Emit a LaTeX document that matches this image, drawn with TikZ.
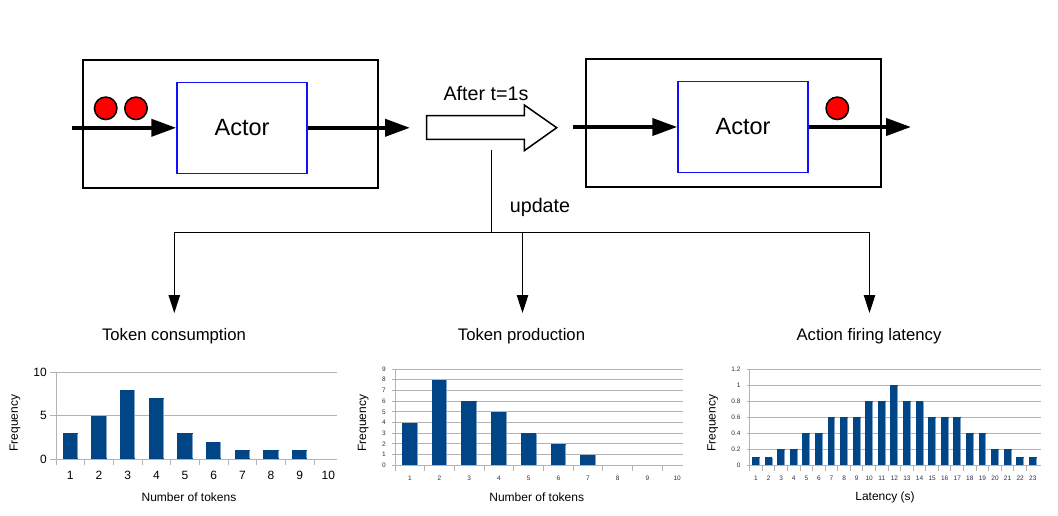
\documentclass[tikz,border=0pt]{standalone}
\usepackage{fontspec}
\setmainfont{Liberation Sans}
\usetikzlibrary{arrows.meta}
\definecolor{barblue}{HTML}{004586}
\definecolor{barhi}{HTML}{7FA2C8}
\definecolor{gridgray}{HTML}{B3B3B3}
\definecolor{axlab}{HTML}{2B2B45}
\definecolor{actorblue}{HTML}{1010FF}
\begin{document}
\begin{tikzpicture}[x=1pt,y=-1pt,
  outerbox/.style={draw=black, line width=1.5pt, minimum width=295pt, minimum height=128pt, inner sep=0},
  actorbox/.style={draw=actorblue, line width=1.5pt, minimum width=130pt, minimum height=91pt, inner sep=0, font=\fontsize{23.5}{28}\selectfont},
  flow/.style={line width=4pt, -{Triangle[length=25pt,width=17pt]}},
  token/.style={circle, draw=black, fill=red, line width=1.5pt, minimum size=22.5pt, inner sep=0},
  conn/.style={line width=1pt},
  connarr/.style={conn, -{Triangle[length=18pt,width=11.5pt]}},
  biglabel/.style={font=\fontsize{19.7}{24}\selectfont, inner sep=0},
  ctitle/.style={font=\fontsize{16.7}{20}\selectfont, inner sep=0},
  axtitle/.style={font=\fontsize{12}{14}\selectfont, inner sep=0},
  bigtick/.style={font=\fontsize{12}{14}\selectfont, inner sep=0},
  smalltick/.style={font=\fontsize{6.5}{8}\selectfont, text=axlab, inner sep=0},
  gridline/.style={draw=gridgray, line width=1pt},
  barhl/.style={draw=barhi, line width=0.8pt}
]
\useasboundingbox (0,0) rectangle (1058,516);

% ---------- top left: actor before ----------
\node[outerbox] (outerL) at (230.7,123.8) {};
\node[actorbox] (actorL) at (242,127.8) {Actor};
\coordinate (inL) at (72.3,127.8);
\coordinate (outL) at (410,127.8);
\draw[flow] (inL) -- (actorL.west);
\draw[flow] (actorL.east) -- (outL);
\node[token] (tok1) at (105.7,108.3) {};
\node[token] (tok2) at (136,108.3) {};

% ---------- block arrow ----------
\draw[line width=1.5pt, fill=white] (426.7,115.7) -- (524.3,115.7) -- (524.3,105) -- (556.7,127.7)
  -- (524.3,150.7) -- (524.3,139.3) -- (426.7,139.3) -- cycle;
\node[biglabel] (after) at (486,93) {After t=1s};

% ---------- top right: actor after ----------
\node[outerbox] (outerR) at (733.5,123) {};
\node[actorbox] (actorR) at (743,127) {Actor};
\coordinate (inR) at (572.7,127);
\coordinate (outR) at (911,127);
\draw[flow] (inR) -- (actorR.west);
\draw[flow] (actorR.east) -- (outR);
\node[token] (tok3) at (837.3,108.3) {};

% ---------- update connectors ----------
\node[biglabel] (upd) at (540,207) {update};
\coordinate (updTop) at (491,150);
\coordinate (jn) at (491,232.7);
\coordinate (aA) at (174.3,313);
\coordinate (aB) at (522.5,313);
\coordinate (aC) at (869.5,313);
\draw[conn] (updTop) -- (jn);
\draw[connarr] (jn) -| (aA);
\draw[connarr] (jn) -| (aC);
\draw[connarr] (jn -| aB) -- (aB);

% ---------- titles ----------
\node[ctitle] (tA) at (174,336) {Token consumption};
\node[ctitle] (tB) at (521.5,336) {Token production};
\node[ctitle] (tC) at (869,336) {Action firing latency};

% ---------- chart 1 ----------
\foreach \v in {0,5,10} {
  \draw[gridline] (50,{459-8.67*\v}) -- (336.7,{459-8.67*\v});
  \node[bigtick, anchor=east] (c1y\v) at (47,{459-8.67*\v}) {\v};
}
\draw[gridline] (56,372.3) -- (56,459);
\foreach \i in {0,...,9} \draw[gridline] ({56+28.67*\i},459) -- ({56+28.67*\i},464.5);
\foreach \h [count=\i] in {3,5,8,7,3,2,1,1,1,0} {
  \ifnum\h>0
    \fill[barblue] ({56+28.67*(\i-0.5)-7.6},459) rectangle ({56+28.67*(\i-0.5)+7.6},{459-8.67*\h});
    \draw[barhl] ({56+28.67*(\i-0.5)+7.1},{459-8.67*\h+0.6}) -- ({56+28.67*(\i-0.5)+7.1},458.4);
  \fi
  \node[bigtick] (c1x\i) at ({56+28.67*(\i-0.5)},475.7) {\i};
}
\node[axtitle, rotate=90] (c1yt) at (15,423.3) {Frequency};
\node[axtitle] (c1xt) at (189,497.3) {Number of tokens};

% ---------- chart 2 ----------
\foreach \v in {0,...,9} {
  \draw[gridline] (392,{465.3-10.7*\v}) -- (683.3,{465.3-10.7*\v});
  \node[smalltick, anchor=east] (c2y\v) at (386,{465.3-10.7*\v}) {\v};
}
\draw[gridline] (395,369) -- (395,465.3);
\foreach \i in {0,...,9} \draw[gridline] ({395+29.7*\i},465.3) -- ({395+29.7*\i},470.5);
\foreach \h [count=\i] in {4,8,6,5,3,2,1,0,0,0} {
  \ifnum\h>0
    \fill[barblue] ({395+29.7*(\i-0.5)-7.8},465.3) rectangle ({395+29.7*(\i-0.5)+7.8},{465.3-10.7*\h});
    \draw[barhl] ({395+29.7*(\i-0.5)+7.3},{465.3-10.7*\h+0.6}) -- ({395+29.7*(\i-0.5)+7.3},464.7);
  \fi
  \node[smalltick] (c2x\i) at ({395+29.7*(\i-0.5)},478.3) {\i};
}
\node[axtitle, rotate=90] (c2yt) at (363.3,423.3) {Frequency};
\node[axtitle] (c2xt) at (536.7,497.3) {Number of tokens};

% ---------- chart 3 ----------
\foreach \v [count=\k] in {0,0.2,0.4,0.6,0.8,1,1.2} {
  \draw[gridline] (746.5,{465.3-80*\v}) -- (1040.7,{465.3-80*\v});
  \node[smalltick, anchor=east] (c3y\k) at (740.7,{465.3-80*\v}) {\v};
}
\draw[gridline] (749.7,369.3) -- (749.7,465.3);
\foreach \i in {0,...,22} \draw[gridline] ({749.7+12.58*\i},465.3) -- ({749.7+12.58*\i},470.5);
\foreach \h [count=\i] in {0.1,0.1,0.2,0.2,0.4,0.4,0.6,0.6,0.6,0.8,0.8,1.0,0.8,0.8,0.6,0.6,0.6,0.4,0.4,0.2,0.2,0.1,0.1} {
  \fill[barblue] ({749.7+12.58*(\i-0.5)-3.9},465.3) rectangle ({749.7+12.58*(\i-0.5)+3.9},{465.3-80*\h});
  \draw[barhl] ({749.7+12.58*(\i-0.5)+3.4},{465.3-80*\h+0.6}) -- ({749.7+12.58*(\i-0.5)+3.4},464.7);
  \node[smalltick] (c3x\i) at ({749.7+12.58*(\i-0.5)},478.3) {\i};
}
\node[axtitle, rotate=90] (c3yt) at (712.7,423) {Frequency};
\node[axtitle] (c3xt) at (885,497.3) {Latency (s)};
\end{tikzpicture}
\end{document}
